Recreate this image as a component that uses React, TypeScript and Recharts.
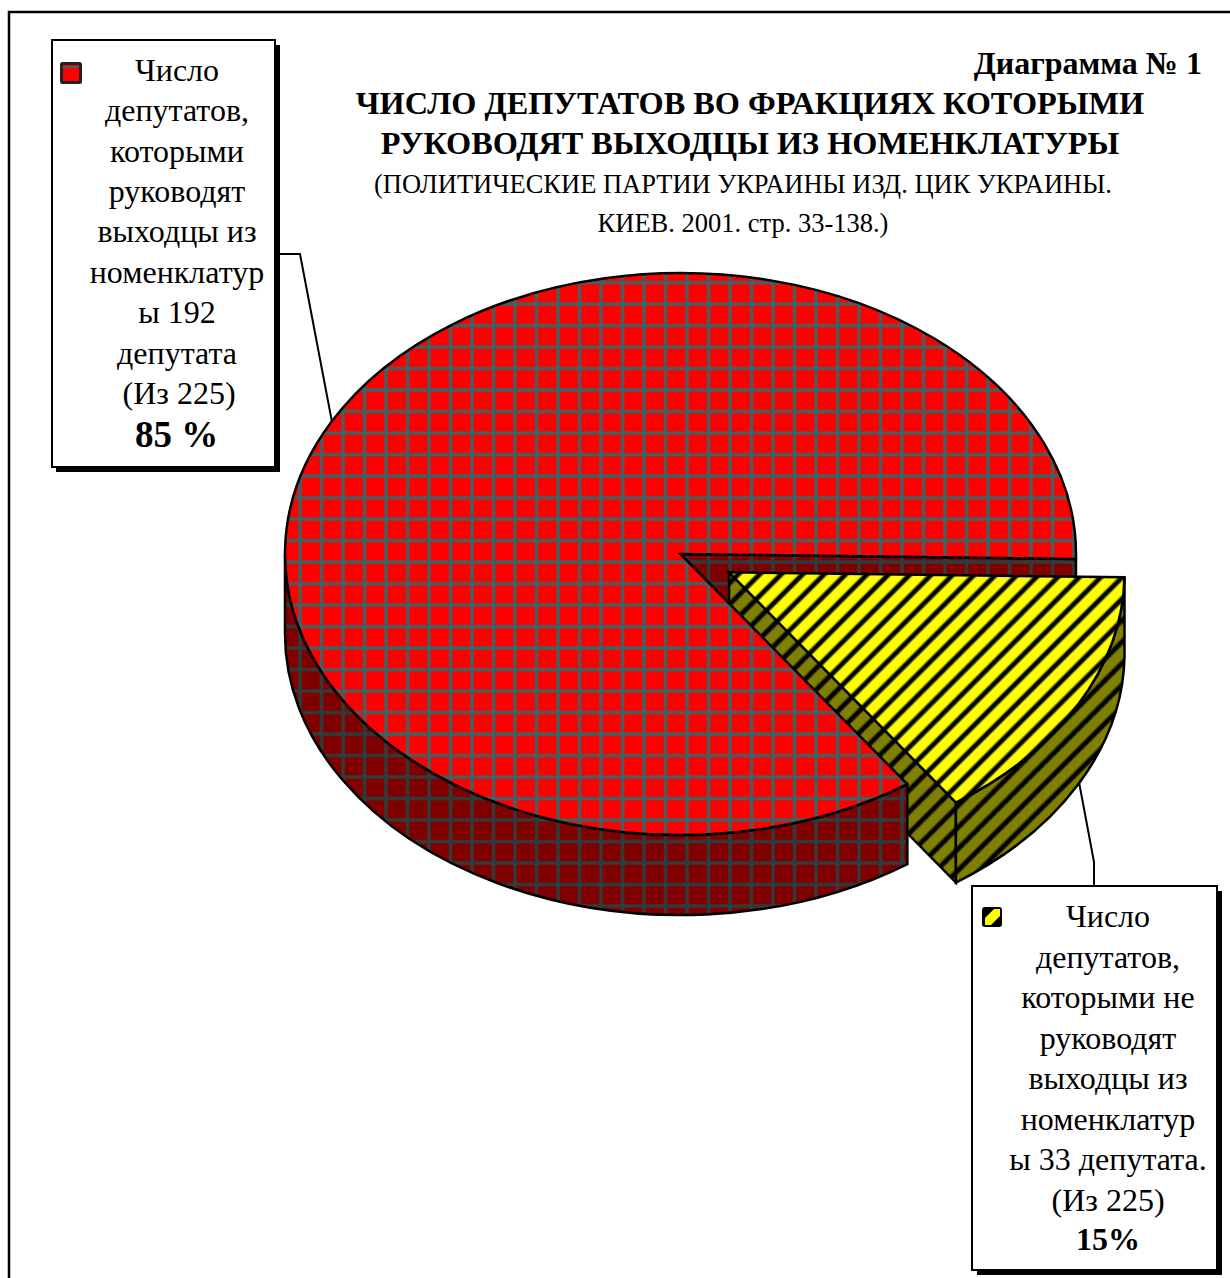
import { PieChart, Pie } from 'recharts';

const categories = ['Руководят выходцы из номенклатуры', 'Не руководят выходцы из номенклатуры'];
const shares = [85, 15];
const explode = [0, 55];

const topFills = ['url(#redGrid)', 'url(#yellowStripes)'];
const wallFills = ['url(#darkRedGrid)', 'url(#oliveStripes)'];

const leftBoxLines = ['Число', 'депутатов,', 'которыми', 'руководят', 'выходцы из', 'номенклатур', 'ы 192', 'депутата', '(Из 225)'];
const rightBoxLines = ['Число', 'депутатов,', 'которыми не', 'руководят', 'выходцы из', 'номенклатур', 'ы 33 депутата.', '(Из 225)'];
const titleLines = ['ЧИСЛО ДЕПУТАТОВ ВО ФРАКЦИЯХ КОТОРЫМИ', 'РУКОВОДЯТ ВЫХОДЦЫ ИЗ НОМЕНКЛАТУРЫ'];
const subtitleLines = ['(ПОЛИТИЧЕСКИЕ ПАРТИИ УКРАИНЫ ИЗД. ЦИК УКРАИНЫ.', 'КИЕВ. 2001. стр. 33-138.)'];

const pieData = categories.map((name, i) => ({ name, value: shares[i], id: i }));

const SQUASH = 0.7105;
const DEPTH = 80;
const FONT = '"Liberation Serif", serif';
const RAD = Math.PI / 180;

// recharts hands us circular angles, we flatten them to an ellipse for the tilted look
function geometry(props: any) {
  const { cx, cy, outerRadius: rx, startAngle, endAngle, payload } = props;
  const id = payload.id;
  const mid = ((startAngle + endAngle) / 2) * RAD;
  const ox = cx + explode[id] * Math.cos(mid);
  const oy = cy - explode[id] * SQUASH * Math.sin(mid);
  const ry = rx * SQUASH;
  const pt = (deg: number, drop = 0) =>
    [ox + rx * Math.cos(deg * RAD), oy - ry * Math.sin(deg * RAD) + drop].join(' ');
  return { id, ox, oy, rx, ry, pt, startAngle, endAngle };
}

function topPath({ ox, oy, rx, ry, pt, startAngle, endAngle }: any) {
  const large = Math.abs(endAngle - startAngle) > 180 ? 1 : 0;
  return `M ${ox} ${oy} L ${pt(startAngle)} A ${rx} ${ry} 0 ${large} 1 ${pt(endAngle)} Z`;
}

function cutFace({ ox, oy, pt }: any, deg: number) {
  return `M ${ox} ${oy} L ${pt(deg)} L ${pt(deg, DEPTH)} L ${ox} ${oy + DEPTH} Z`;
}

// outer rim between two angles on the front half
function rim({ rx, ry, pt }: any, from: number, to: number) {
  return `M ${pt(from)} A ${rx} ${ry} 0 0 1 ${pt(to)} L ${pt(to, DEPTH)} A ${rx} ${ry} 0 0 0 ${pt(from, DEPTH)} Z`;
}

const edge = { stroke: '#000', strokeWidth: 2.5, strokeLinejoin: 'miter' as const };

// first pass: faces that sit behind the red top
function BackShape(props: any) {
  const g = geometry(props);
  if (g.id === 0) {
    return <path d={cutFace(g, g.endAngle)} fill={wallFills[0]} {...edge} />;
  }
  return (
    <g>
      <path d={cutFace(g, g.endAngle)} fill={wallFills[1]} {...edge} />
      <path d={rim(g, g.startAngle, g.endAngle)} fill={wallFills[1]} {...edge} />
    </g>
  );
}

// second pass: red rim + top, then the yellow top
function FrontShape(props: any) {
  const g = geometry(props);
  if (g.id === 0) {
    return (
      <g>
        <path d={rim(g, g.startAngle, -180)} fill={wallFills[0]} {...edge} />
        <path d={topPath(g)} fill={topFills[0]} {...edge} />
      </g>
    );
  }
  return <path d={topPath(g)} fill={topFills[1]} {...edge} />;
}

function Defs() {
  return (
    <svg width={0} height={0} style={{ position: 'absolute' }}>
      <defs>
        <pattern id="redGrid" patternUnits="userSpaceOnUse" x={289.3} y={594.3} width={21.5} height={21.5}>
          <rect width={21.5} height={21.5} fill="#ff0000" />
          <path d="M10.75 0V21.5M0 10.75H21.5" stroke="#456060" strokeWidth={3.4} />
        </pattern>
        <pattern id="darkRedGrid" patternUnits="userSpaceOnUse" x={289.3} y={594.3} width={21.5} height={21.5}>
          <rect width={21.5} height={21.5} fill="#800000" />
          <path d="M10.75 0V21.5M0 10.75H21.5" stroke="#303c3c" strokeWidth={3.4} />
        </pattern>
        <linearGradient id="stripeBand" x1="0" x2="1" y1="0" y2="0">
          <stop offset="0" stopColor="#000" stopOpacity={0} />
          <stop offset="0.14" stopColor="#000" stopOpacity={1} />
          <stop offset="0.32" stopColor="#000" stopOpacity={1} />
          <stop offset="0.46" stopColor="#000" stopOpacity={0} />
        </linearGradient>
        <pattern id="yellowStripes" patternUnits="userSpaceOnUse" width={15.2} height={15.2} patternTransform="translate(-3.7 0) rotate(45)">
          <rect width={15.2} height={15.2} fill="#ffff00" />
          <rect width={15.2} height={15.2} fill="url(#stripeBand)" />
        </pattern>
        <pattern id="oliveStripes" patternUnits="userSpaceOnUse" width={15.2} height={15.2} patternTransform="translate(-3.7 0) rotate(45)">
          <rect width={15.2} height={15.2} fill="#808000" />
          <rect width={15.2} height={15.2} fill="url(#stripeBand)" />
        </pattern>
      </defs>
    </svg>
  );
}

function Overlay() {
  const txt = { fontFamily: FONT, fill: '#000', textAnchor: 'middle' as const };
  return (
    <svg width={1230} height={1278} style={{ position: 'absolute', left: 0, top: 0 }}>
      {/* frame, the right side runs off the page */}
      <path d="M9 1278V12H1230" fill="none" stroke="#000" strokeWidth={2.5} />

      {/* leaders */}
      <path d="M275 254H300L332 422" fill="none" stroke="#000" strokeWidth={2} />
      <path d="M1079 782L1094 862V886" fill="none" stroke="#000" strokeWidth={2} />

      {/* left note */}
      <rect x={56} y={45} width={224} height={427} fill="#000" />
      <rect x={52} y={40} width={223} height={427} fill="#fff" stroke="#000" strokeWidth={2} />
      <rect x={61.5} y={63.5} width={19} height={19} rx={1} fill="#ff0000" stroke="#222" strokeWidth={3} />
      <path d="M63 67H79" stroke="#456060" strokeWidth={2} />
      {leftBoxLines.map((line, i) => (
        <text key={i} x={line === '(Из 225)' ? 179 : 177} y={80.7 + i * 40.4} fontSize={32} {...txt}>{line}</text>
      ))}
      <text x={176.5} y={447} fontSize={37} fontWeight="bold" {...txt}>85 %</text>

      {/* right note */}
      <rect x={977} y={891} width={245} height={384} fill="#000" />
      <rect x={972} y={886} width={245} height={384} fill="#fff" stroke="#000" strokeWidth={2} />
      <rect x={982} y={907} width={20} height={20} rx={3} fill="#000" />
      <path d="M985 925L985 918L994 909H1000V916L991 925Z" fill="#ffff00" />
      {rightBoxLines.map((line, i) => (
        <text key={i} x={1108} y={927 + i * 40.5} fontSize={32} {...txt}>{line}</text>
      ))}
      <text x={1108} y={1250} fontSize={32} fontWeight="bold" {...txt}>15%</text>

      {/* titles */}
      <text x={1202} y={74} fontSize={32} fontWeight="bold" fontFamily={FONT} textAnchor="end">Диаграмма № 1</text>
      {titleLines.map((line, i) => (
        <text key={i} x={750} y={114 + i * 40} fontSize={32.3} fontWeight="bold" {...txt}>{line}</text>
      ))}
      {subtitleLines.map((line, i) => (
        <text key={i} x={743} y={192.5 + i * 39.5} fontSize={26.5} {...txt}>{line}</text>
      ))}
    </svg>
  );
}

export default function App() {
  const pieProps = {
    data: pieData,
    dataKey: 'value',
    nameKey: 'name',
    cx: 680.5,
    cy: 554,
    innerRadius: 0,
    outerRadius: 395.5,
    startAngle: -55,
    endAngle: -415,
    paddingAngle: 0,
    stroke: 'none',
    labelLine: false,
    isAnimationActive: false,
  };
  return (
    <div style={{ position: 'absolute', left: 0, top: 0, width: 1230, height: 1278, background: '#fff', overflow: 'hidden' }}>
      <Defs />
      <div style={{ position: 'absolute', left: 0, top: 0 }}>
        <PieChart width={1230} height={1278} margin={{ top: 0, right: 0, bottom: 0, left: 0 }}>
          <Pie {...pieProps} shape={BackShape} />
          <Pie {...pieProps} shape={FrontShape} />
        </PieChart>
      </div>
      <Overlay />
    </div>
  );
}
